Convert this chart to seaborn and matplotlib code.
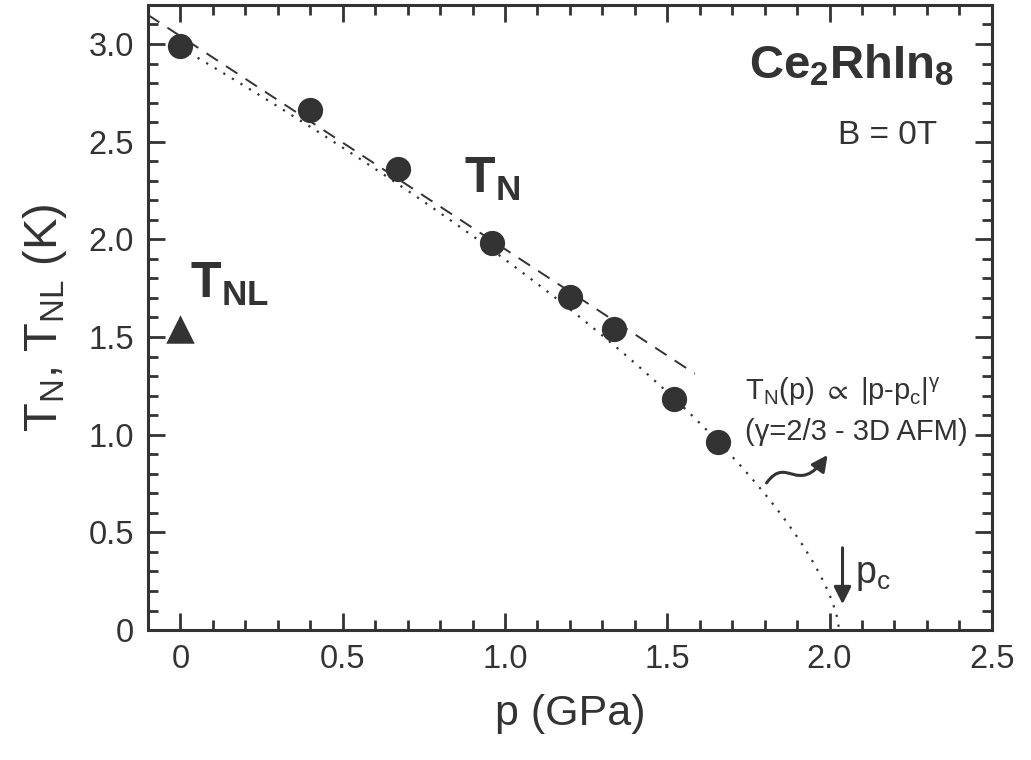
import numpy as np
import pandas as pd
import matplotlib
matplotlib.use("Agg")
import matplotlib.pyplot as plt
import seaborn as sns
from matplotlib.ticker import MultipleLocator, FuncFormatter
from matplotlib.patches import FancyArrowPatch
from matplotlib.path import Path

# ---- data ----
p_N = [0.0, 0.40, 0.67, 0.96, 1.20, 1.335, 1.52, 1.655]
T_N = [2.99, 2.66, 2.36, 1.98, 1.705, 1.54, 1.185, 0.965]
p_NL = [0.0]
T_NL = [1.54]

# linear guide (dashed) parameters
lin_p_range = [-0.10, 1.585]
lin_T0 = 3.04
lin_slope = -1.09

# power-law fit (dotted) parameters
pc = 2.03
gamma = 2.0 / 3.0
amp = 1.86

x_ticks = [0, 0.5, 1.0, 1.5, 2.0, 2.5]
y_ticks = [0, 0.5, 1.0, 1.5, 2.0, 2.5, 3.0]

C = "#333333"

sns.set_theme(style="ticks")
plt.rcParams["font.family"] = ["Liberation Sans", "DejaVu Sans"]
plt.rcParams["mathtext.fontset"] = "custom"
plt.rcParams["mathtext.rm"] = "Liberation Sans"
plt.rcParams["mathtext.it"] = "Liberation Sans:italic"
plt.rcParams["mathtext.bf"] = "Liberation Sans:bold"
plt.rcParams["mathtext.default"] = "regular"
plt.rcParams["text.color"] = C
plt.rcParams["axes.labelcolor"] = C
plt.rcParams["xtick.color"] = C
plt.rcParams["ytick.color"] = C

fig = plt.figure(figsize=(10.31, 7.60), dpi=100)
ax = fig.add_axes([0.1435, 0.171, 0.8185, 0.8225])

# fit curves
lin_p = np.array(lin_p_range)
lin_T = lin_T0 + lin_slope * lin_p
sns.lineplot(x=lin_p, y=lin_T, ax=ax, color=C, lw=1.4, sort=False,
             linestyle=(0, (7, 5)))

pw_p = np.linspace(0.0, pc, 300)
pw_T = amp * np.abs(pw_p - pc) ** gamma
sns.lineplot(x=pw_p, y=pw_T, ax=ax, color=C, lw=1.6, sort=False,
             linestyle=(0, (1, 3.5)))

# data points
sns.scatterplot(x=p_N, y=T_N, ax=ax, s=330, color=C, linewidth=0, marker="o", zorder=5)
sns.scatterplot(x=p_NL, y=T_NL, ax=ax, s=420, color=C, linewidth=0, marker="^", zorder=5)

ax.set_xlim(-0.1, 2.5)
ax.set_ylim(0, 3.2)
ax.set_xticks(x_ticks)
ax.set_yticks(y_ticks)
fmt = FuncFormatter(lambda v, pos: "0" if abs(v) < 1e-9 else f"{v:.1f}")
ax.xaxis.set_major_formatter(fmt)
ax.yaxis.set_major_formatter(fmt)
ax.xaxis.set_minor_locator(MultipleLocator(0.1))
ax.yaxis.set_minor_locator(MultipleLocator(0.1))
ax.tick_params(which="both", direction="in", top=True, right=True, width=2, color=C)
ax.tick_params(which="major", length=12, labelsize=23.5, pad=10)
ax.tick_params(which="minor", length=7)
for s in ax.spines.values():
    s.set_linewidth(2.2)
    s.set_color(C)

ax.set_xlabel("p (GPa)", fontsize=31, labelpad=14)
ax.set_ylabel("T$_N$, T$_{NL}$ (K)", fontsize=34, labelpad=14)

# text labels
ax.text(0.956, 0.882, "Ce$_2$RhIn$_8$", transform=ax.transAxes, ha="right",
        va="baseline", fontsize=34, fontweight="bold")
ax.text(0.877, 0.777, "B = 0T", transform=ax.transAxes, ha="center",
        va="baseline", fontsize=24)
ax.text(0.873, 2.24, "T$_N$", ha="left", va="baseline", fontsize=36, fontweight="bold")
ax.text(0.031, 1.70, "T$_{NL}$", ha="left", va="baseline", fontsize=36, fontweight="bold")

ax.text(1.738, 1.178, "T$_N$(p) $\\propto$ |p-p$_c$|$^{\\gamma}$", ha="left",
        va="baseline", fontsize=21)
ax.text(1.738, 0.973, "(\u03b3=2/3 - 3D AFM)", ha="left", va="baseline", fontsize=21)

# wavy arrow
verts = [(1.806, 0.753), (1.87, 0.90), (1.90, 0.68), (1.994, 0.896)]
codes = [Path.MOVETO, Path.CURVE4, Path.CURVE4, Path.CURVE4]
wavy = FancyArrowPatch(path=Path(verts, codes), arrowstyle="-|>", mutation_scale=24,
                       lw=2.2, color=C, transform=ax.transData)
ax.add_patch(wavy)

# p_c arrow
ax.annotate("", xy=(2.04, 0.118), xytext=(2.04, 0.435),
            arrowprops=dict(arrowstyle="-|>", color=C, lw=2.2, mutation_scale=26))
ax.text(2.077, 0.24, "p$_c$", ha="left", va="baseline", fontsize=27)

fig.savefig("out.png", dpi=100)
